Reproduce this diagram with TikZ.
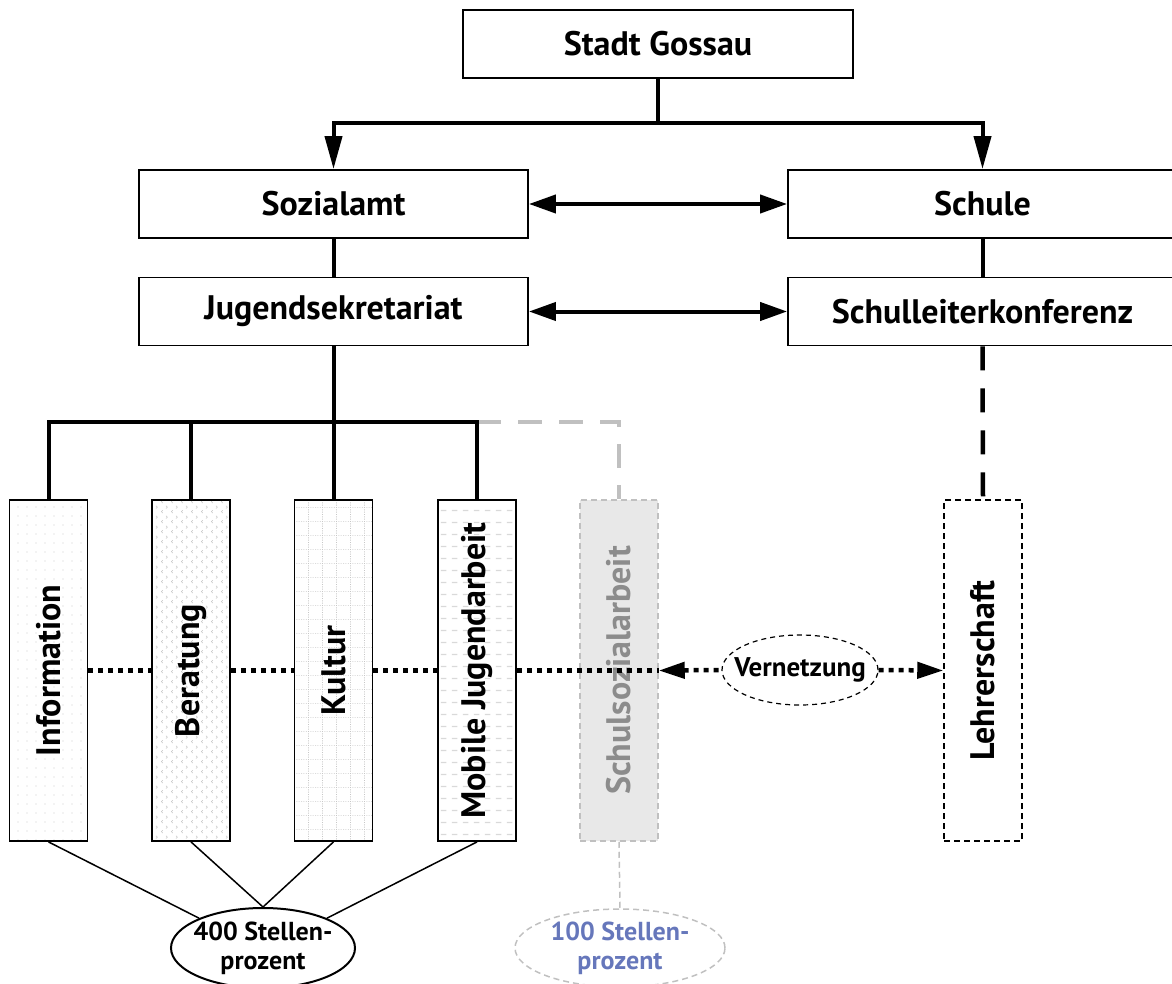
\documentclass[tikz,border=0pt]{standalone}
\usepackage{fontspec}
\setmainfont{PT Sans}
\usetikzlibrary{arrows.meta,shapes.geometric,patterns.meta}
\definecolor{ssgray}{HTML}{E8E8E8}
\definecolor{dgray}{HTML}{C0C0C0}
\definecolor{tgray}{HTML}{8C8C8C}
\definecolor{pblue}{HTML}{6677BB}
\tikzdeclarepattern{
  name=chev, type=uncolored,
  bounding box={(0,0) and (10pt,10pt)},
  tile size={(10pt,10pt)},
  code={
    \draw[line width=0.6pt] (3pt,1pt) -- (1.5pt,2.5pt) -- (3pt,4pt);
    \draw[line width=0.6pt] (6.5pt,6pt) -- (8pt,7.5pt) -- (6.5pt,9pt);
  }
}
\tikzdeclarepattern{
  name=hdash, type=uncolored,
  bounding box={(0,0) and (11pt,12pt)},
  tile size={(11pt,12pt)},
  code={\draw[line width=1.2pt] (1pt,6pt) -- (7pt,6pt);}
}
\tikzdeclarepattern{
  name=dgrid, type=uncolored,
  bounding box={(0,0) and (14pt,14pt)},
  tile size={(14pt,14pt)},
  code={\draw[line width=0.6pt, dash pattern=on 1pt off 1.5pt] (0pt,0.5pt) -- (14pt,0.5pt) (0.5pt,0pt) -- (0.5pt,14pt);}
}
\begin{document}
\begin{tikzpicture}[x=1pt,y=-1pt,
  bigfont/.style={font=\fontsize{34}{38}\selectfont\bfseries},
  box/.style={draw, line width=1.8pt, minimum width=389pt, minimum height=68pt, inner sep=0pt, bigfont},
  vbox/.style={draw, line width=1.8pt, minimum width=78pt, minimum height=341pt, inner sep=0pt, bigfont},
  conn/.style={line width=4pt},
  downtip/.style={-{Triangle[length=33pt,width=17pt]}},
  hdbl/.style={{Triangle[length=27pt,width=18pt]}-{Triangle[length=27pt,width=18pt]}},
  dotl/.style={line width=4.5pt, dash pattern=on 5pt off 5pt},
  ltip/.style={{Triangle[length=26pt,width=16pt]}-},
  rtip/.style={-{Triangle[length=26pt,width=16pt]}},
  graydash/.style={line width=4pt, dgray, dash pattern=on 24pt off 17pt},
  blackdash/.style={line width=4.5pt, dash pattern=on 24pt off 18pt},
  thinl/.style={line width=1.5pt}
]
\useasboundingbox (0,0) rectangle (1172,984);

% top boxes
\node[box, minimum width=390pt] (stadt) at (658,44) {Stadt Gossau};
\node[box] (soz) at (333.5,204) {Sozialamt};
\node[box] (schule) at (982.5,204) {Schule};
\node[box] (jug) at (333.5,311.5) {Jugendsekretariat};
\node[box] (slk) at (982.5,311.5) {Schulleiterkonferenz};

% vertical boxes
\node[vbox, pattern={Dots[radius=0.7pt,distance=9pt]}, pattern color=gray!40] (info) at (48.5,670.5) {\rotatebox{90}{Information}};
\node[vbox, pattern=chev, pattern color=gray!45] (ber) at (191,670.5) {\rotatebox{90}{Beratung}};
\node[vbox, pattern=dgrid, pattern color=gray!45] (kul) at (333.5,670.5) {\rotatebox{90}{Kultur}};
\node[vbox, pattern=hdash, pattern color=gray!30] (mja) at (477,670.5) {\rotatebox{90}{Mobile Jugendarbeit}};
\node[vbox, draw=dgray, fill=ssgray, line width=1.5pt, dash pattern=on 6pt off 4pt, text=tgray] (ssa) at (619,670.5) {\rotatebox{90}{Schulsozialarbeit}};
\node[vbox, line width=1.5pt, dash pattern=on 6pt off 4pt] (lehr) at (983,670.5) {\rotatebox{90}{Lehrerschaft}};

% ellipses
\node[ellipse, draw, line width=1.2pt, dash pattern=on 5pt off 4pt, minimum width=156pt, minimum height=70pt, inner sep=0pt, font=\fontsize{27}{30}\selectfont\bfseries, fill=white] (vern) at (800,670) {\makebox[0pt]{Vernetzung}};
\node[ellipse, draw, line width=2pt, minimum width=184pt, minimum height=80pt, inner xsep=0pt, inner ysep=-5pt, align=center, font=\fontsize{26}{29}\selectfont\bfseries] (e400) at (263,948) {\makebox[0pt]{400 Stellen-}\\\makebox[0pt]{prozent}};
\node[ellipse, draw=dgray, line width=1.5pt, dash pattern=on 6pt off 4pt, minimum width=210pt, minimum height=78pt, inner xsep=0pt, inner ysep=-5pt, align=center, text=pblue, font=\fontsize{26}{29}\selectfont\bfseries] (e100) at (620,948) {\makebox[0pt]{100 Stellen-}\\\makebox[0pt]{prozent}};

% top connectors
\coordinate (split) at (658,123);
\draw[conn] (stadt.south) -- (split);
\draw[conn, downtip] (split) -| (soz.north);
\draw[conn, downtip] (split) -| (schule.north);
\draw[conn, hdbl] (soz.east) -- (schule.west);
\draw[conn, hdbl] (jug.east) -- (slk.west);
\draw[conn] (soz.south) -- (jug.north);
\draw[conn] (schule.south) -- (slk.north);

% Jugendsekretariat tree
\coordinate (jsplit) at (333.5,422);
\draw[graydash] (mja.north |- jsplit) -| (ssa.north);
\draw[conn] (jug.south) -- (kul.north);
\draw[conn] (info.north) -- (info.north |- jsplit) -- (mja.north |- jsplit) -- (mja.north);
\draw[conn] (ber.north) -- (ber.north |- jsplit);
\draw[blackdash] (slk.south) -- (lehr.north);

% Vernetzung dotted line
\draw[dotl] (info.east) -- (ber.west);
\draw[dotl] (ber.east) -- (kul.west);
\draw[dotl] (kul.east) -- (mja.west);
\draw[dotl] (mja.east) -- (ssa.east);
\draw[dotl, ltip] (ssa.east) -- (vern.west);
\draw[dotl, rtip] (vern.east) -- (lehr.west);

% Stellenprozent
\draw[thinl] (info.south) -- (e400.155);
\draw[thinl] (ber.south) -- (e400.north);
\draw[thinl] (kul.south) -- (e400.north);
\draw[thinl] (mja.south) -- (e400.25);
\draw[thinl, dgray, dash pattern=on 6pt off 4pt] (ssa.south) -- (e100.north);
\end{tikzpicture}
\end{document}
